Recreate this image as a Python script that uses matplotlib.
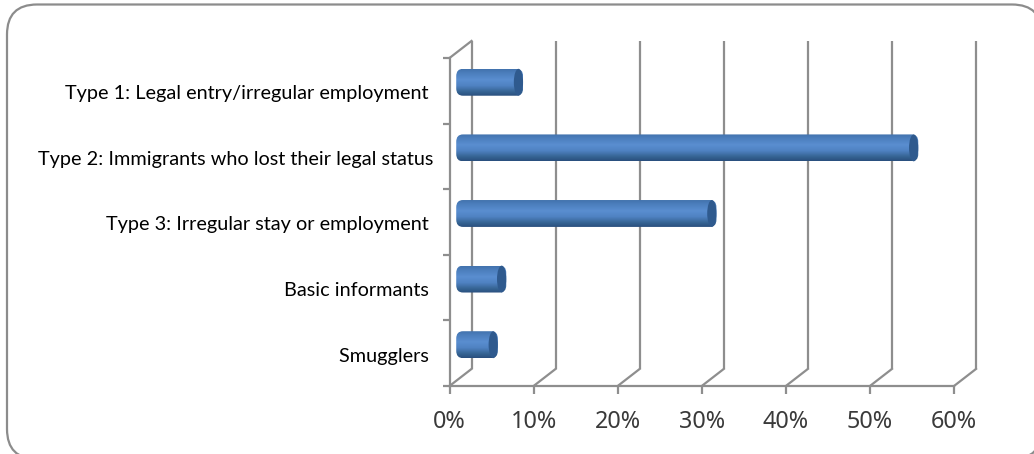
import matplotlib
matplotlib.use("Agg")
import matplotlib.pyplot as plt
import numpy as np
from matplotlib.colors import LinearSegmentedColormap
from matplotlib.patches import Ellipse, FancyBboxPatch
from matplotlib.ticker import FuncFormatter
from matplotlib.transforms import Affine2D

categories = [
    "Type 1: Legal entry/irregular employment ",
    "Type 2: Immigrants who lost their legal status",
    "Type 3: Irregular stay or employment ",
    "Basic informants ",
    "Smugglers ",
]
values = [7, 54, 30, 5, 4]
x_ticks = [0, 10, 20, 30, 40, 50, 60]

W, H = 1034, 454
GRID = "#8e8e8e"
DEPTH_X, DEPTH_Y = 2.62, 0.26

fig = plt.figure(figsize=(W / 100, H / 100), dpi=100, facecolor="white")

# rounded outer frame, cropped by the image at right and bottom
frame = FancyBboxPatch((7, -5), 1035, 454.5, boxstyle="round,pad=0,rounding_size=30",
                       transform=None, facecolor="white", edgecolor="#8c8c8c", linewidth=1.6,
                       zorder=-5)
fig.add_artist(frame)

ax = fig.add_axes([449.5 / W, 1 - 386 / H, (954 - 449.5) / W, (386 - 58) / H])
ax.patch.set_visible(False)
ax.set_xlim(0, 60)
ax.set_ylim(4.5, -0.5)

for s in ("top", "right"):
    ax.spines[s].set_visible(False)
for s in ("left", "bottom"):
    ax.spines[s].set_color(GRID)
    ax.spines[s].set_linewidth(1.6)

ax.set_xticks(x_ticks)
ax.xaxis.set_major_formatter(FuncFormatter(lambda v, _: f"{v:.0f}%"))
ax.tick_params(axis="x", length=6, width=1.6, color=GRID, labelsize=16.8,
               labelcolor="#3a3a3a", pad=11)
for t in ax.get_xticklabels():
    t.set_family("Noto Sans")

ax.set_yticks(range(len(categories)))
ax.set_yticklabels(categories, family="Lato", fontsize=14.3, color="#000000")
ax.tick_params(axis="y", length=0, pad=11.3)
ax.set_yticks(np.arange(-0.5, len(categories)), minor=True)
ax.tick_params(axis="y", which="minor", length=5, width=1.6, color=GRID)
for t in ax.get_yticklabels():
    t.set_transform(t.get_transform() + Affine2D().translate(0, -1.5))

# back wall gridlines and depth connectors
for x in x_ticks:
    ax.plot([x + DEPTH_X, x + DEPTH_X], [4.5 - DEPTH_Y, -0.5 - DEPTH_Y], color=GRID, lw=1.6,
            clip_on=False, zorder=1, solid_capstyle="butt")
    ax.plot([x, x + DEPTH_X], [4.5, 4.5 - DEPTH_Y], color=GRID, lw=1.6,
            clip_on=False, zorder=1)
ax.plot([0, DEPTH_X], [-0.5, -0.5 - DEPTH_Y], color=GRID, lw=1.6, clip_on=False, zorder=1)

# cylinder bars
cmap = LinearSegmentedColormap.from_list(
    "cyl", [(0, "#4272ad"), (0.12, "#4a7dbb"), (0.40, "#5a8ed0"), (0.62, "#4f82c2"),
            (0.85, "#356392"), (1, "#2a4f7e")])
grad = np.linspace(0, 1, 64).reshape(-1, 1)
BAR_H = 0.41
START = 0.8
CAP_W = 1.1
for i, v in enumerate(values):
    yc = i - DEPTH_Y / 2
    centre = v + 1.2
    end = centre + CAP_W / 2
    im = ax.imshow(grad, cmap=cmap, aspect="auto", zorder=3, interpolation="bilinear",
                   extent=(START, end, yc + BAR_H / 2, yc - BAR_H / 2), clip_on=True)
    clip = FancyBboxPatch((START, yc - BAR_H / 2), end - START, BAR_H,
                          boxstyle="round,pad=0,rounding_size=0.8",
                          mutation_aspect=0.14, transform=ax.transData,
                          facecolor="none", edgecolor="none")
    ax.add_patch(clip)
    im.set_clip_path(clip)
    ax.add_patch(Ellipse((centre, yc), CAP_W, BAR_H, facecolor="#2f5a8e",
                         edgecolor="none", zorder=4))

ax.set_xlim(0, 60)
ax.set_ylim(4.5, -0.5)

fig.savefig("out.png", dpi=100, facecolor="white")
